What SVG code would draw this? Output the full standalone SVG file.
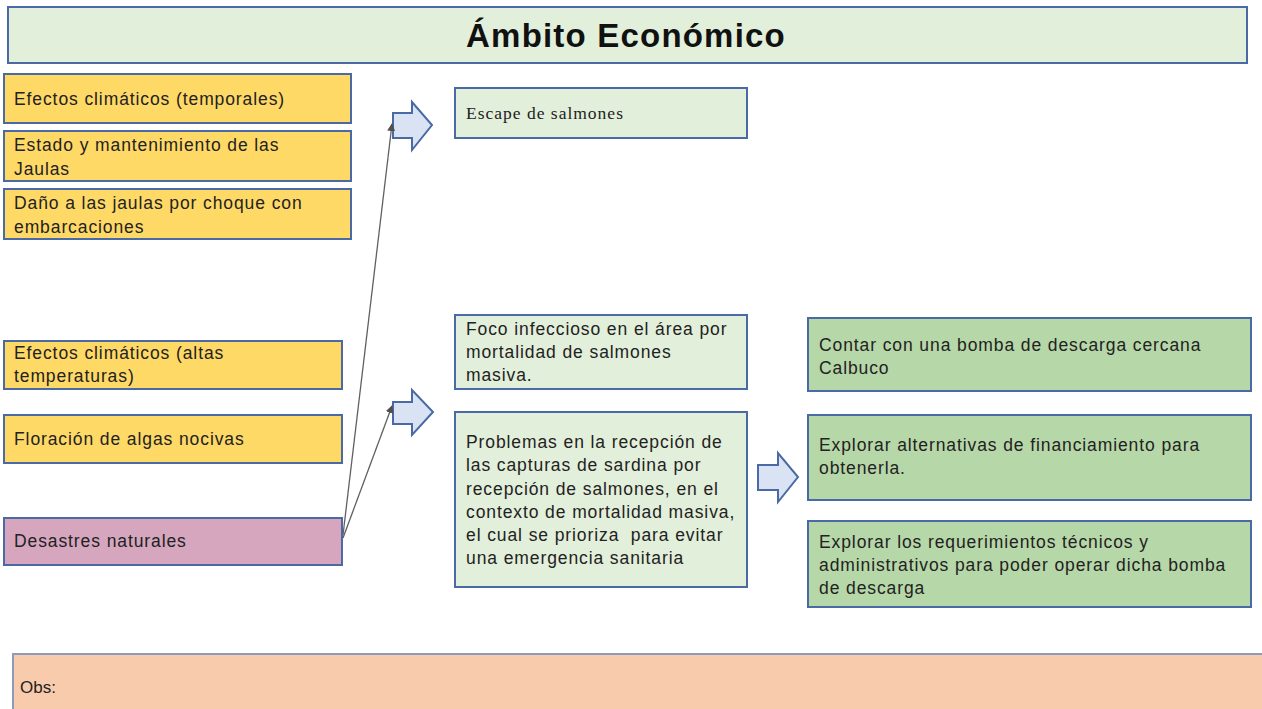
<svg xmlns="http://www.w3.org/2000/svg" width="1262" height="709" viewBox="0 0 1262 709">
<style>
.box{stroke:#4a6aa5;stroke-width:2}
.y{fill:#ffd966}
.p{fill:#d5a6bd}
.lg{fill:#e2efda}
.dg{fill:#b6d7a8}
.t{font-family:"Liberation Sans",Arial,sans-serif;font-size:17.5px;letter-spacing:0.9px;fill:#222}
.arrow{fill:#dae3f3;stroke:#4a6aa5;stroke-width:2;stroke-linejoin:miter}
.conn{stroke:#606060;stroke-width:1.3;fill:none}
</style>
<defs>
<marker id="ah" markerWidth="8" markerHeight="8" refX="7" refY="4" orient="auto" markerUnits="userSpaceOnUse">
<path d="M0,0 L8,4 L0,8 Z" fill="#505050"/>
</marker>
</defs>
<rect width="1262" height="709" fill="#fff"/>
<g id="title">
<rect class="box lg" x="8" y="7" width="1239" height="56"/>
<text x="626" y="47" text-anchor="middle" font-family="Liberation Sans,Arial,sans-serif" font-weight="bold" font-size="33" letter-spacing="1.2" fill="#111">Ámbito Económico</text>
</g>
<g id="n1"><rect class="box y" x="4" y="74" width="347" height="49"/><text class="t" x="14" y="105">Efectos climáticos (temporales)</text></g>
<g id="n2"><rect class="box y" x="4" y="131" width="347" height="50"/><text class="t" x="14" y="151">Estado y mantenimiento de las</text><text class="t" x="14" y="175">Jaulas</text></g>
<g id="n3"><rect class="box y" x="4" y="189" width="347" height="50"/><text class="t" x="14" y="209">Daño a las jaulas por choque con</text><text class="t" x="14" y="233">embarcaciones</text></g>
<g id="n4"><rect class="box y" x="4" y="341" width="338" height="48"/><text class="t" x="14" y="359">Efectos climáticos (altas</text><text class="t" x="14" y="382">temperaturas)</text></g>
<g id="n5"><rect class="box y" x="4" y="415" width="338" height="48"/><text class="t" x="14" y="445">Floración de algas nocivas</text></g>
<g id="n6"><rect class="box p" x="4" y="518" width="338" height="47"/><text class="t" x="14" y="547">Desastres naturales</text></g>
<g id="a1"><path class="arrow" d="M393,113 L412,113 L412,102 L432,125 L412,150 L412,138 L393,138 Z"/></g>
<g id="a2"><path class="arrow" d="M393,402 L412,402 L412,390 L433,412 L412,435 L412,424 L393,424 Z"/></g>
<g id="a3"><path class="arrow" d="M758,465 L778,465 L778,453 L798,477 L778,502 L778,490 L758,490 Z"/></g>
<g id="n7"><rect class="box lg" x="455" y="88" width="292" height="50"/><text x="466" y="119" font-family="Liberation Serif,Times New Roman,serif" font-size="17.5" letter-spacing="1" fill="#222">Escape de salmones</text></g>
<g id="n8"><rect class="box lg" x="455" y="315" width="292" height="74"/><text class="t" x="466" y="335">Foco infeccioso en el área por</text><text class="t" x="466" y="358">mortalidad de salmones</text><text class="t" x="466" y="381">masiva.</text></g>
<g id="n9"><rect class="box lg" x="455" y="412" width="292" height="175"/>
<text class="t" x="466" y="448">Problemas en la recepción de</text>
<text class="t" x="466" y="471">las capturas de sardina por</text>
<text class="t" x="466" y="495">recepción de salmones, en el</text>
<text class="t" x="466" y="518">contexto de mortalidad masiva,</text>
<text class="t" x="466" y="541" xml:space="preserve">el cual se prioriza  para evitar</text>
<text class="t" x="466" y="564">una emergencia sanitaria</text></g>
<g id="n10"><rect class="box dg" x="808" y="318" width="443" height="73"/><text class="t" x="819" y="351">Contar con una bomba de descarga cercana</text><text class="t" x="819" y="374">Calbuco</text></g>
<g id="n11"><rect class="box dg" x="808" y="415" width="443" height="85"/><text class="t" x="819" y="451">Explorar alternativas de financiamiento para</text><text class="t" x="819" y="474">obtenerla.</text></g>
<g id="n12"><rect class="box dg" x="808" y="521" width="443" height="86"/><text class="t" x="819" y="548">Explorar los requerimientos técnicos y</text><text class="t" x="819" y="571">administrativos para poder operar dicha bomba</text><text class="t" x="819" y="594">de descarga</text></g>
<g id="obs">
<rect x="13" y="654" width="1260" height="60" fill="#f8cbad" stroke="#8a9cb8" stroke-width="2"/>
<text x="20" y="693" font-family="Liberation Sans Narrow,Liberation Sans,sans-serif" font-size="17" fill="#222">Obs:</text>
</g>
<g id="connectors">
<line class="conn" x1="343" y1="535" x2="392" y2="124" marker-end="url(#ah)"/>
<line class="conn" x1="343" y1="538" x2="392" y2="406" marker-end="url(#ah)"/>
</g>
</svg>
